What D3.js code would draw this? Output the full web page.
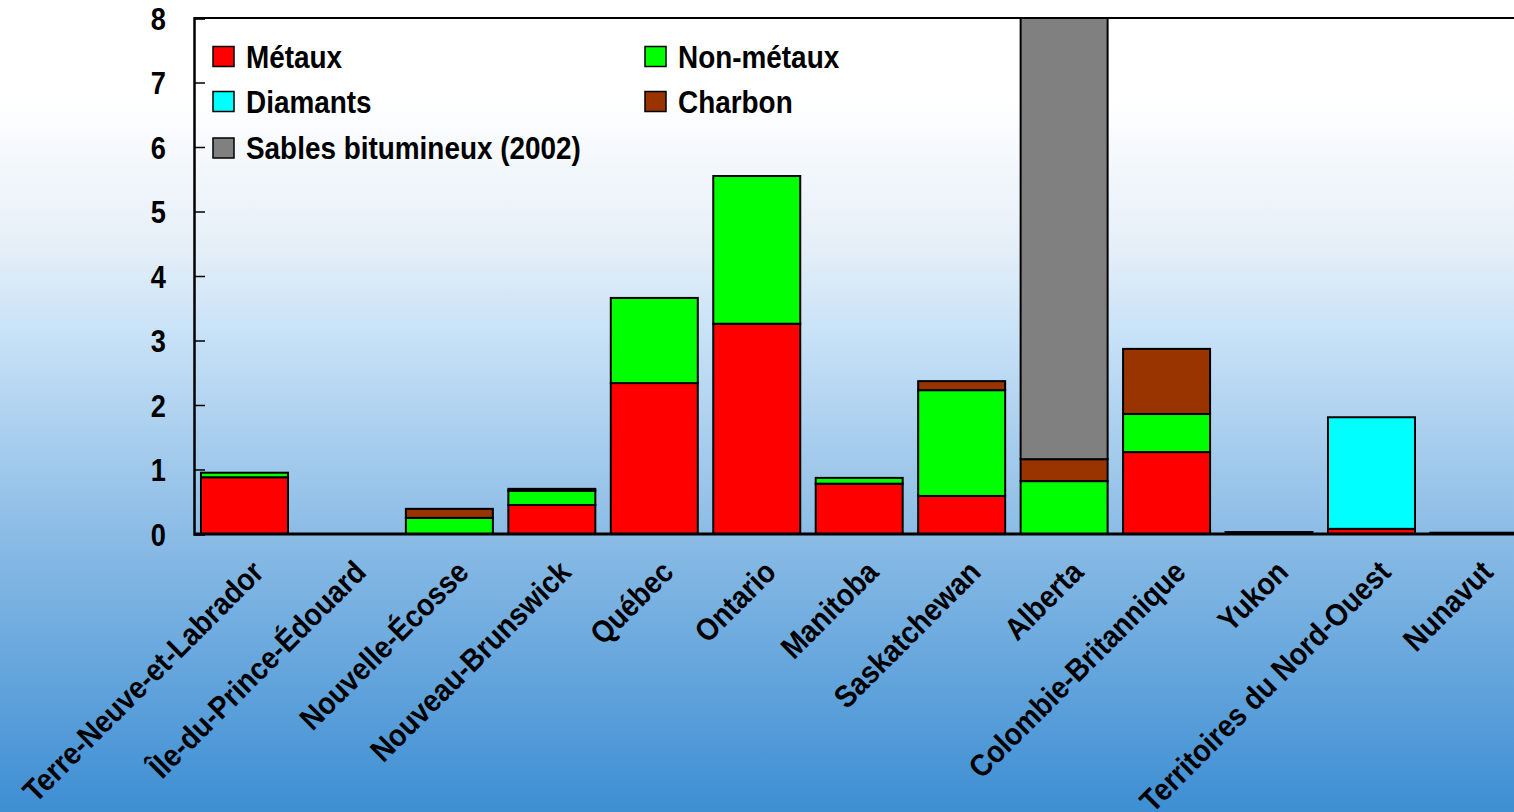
<!DOCTYPE html>
<html>
<head>
<meta charset="utf-8">
<title>Production minérale par province</title>
<script src="https://cdnjs.cloudflare.com/ajax/libs/d3/7.8.5/d3.min.js"></script>
<style>
  html, body { margin: 0; padding: 0; }
  svg { display: block; font-family: "Liberation Sans", Arial, sans-serif; font-weight: bold; }
</style>
</head>
<body>
<svg id="chart" width="1514" height="812"></svg>
<script>
  const provinces = ['Terre-Neuve-et-Labrador', 'Île-du-Prince-Édouard', 'Nouvelle-Écosse', 'Nouveau-Brunswick',
    'Québec', 'Ontario', 'Manitoba', 'Saskatchewan', 'Alberta', 'Colombie-Britannique', 'Yukon',
    'Territoires du Nord-Ouest', 'Nunavut'];

  const metaux    = [0.88, 0, 0,    0.45, 2.34, 3.26, 0.78, 0.59, 0,    1.27, 0.03, 0.08, 0.02];
  const nonMetaux = [0.07, 0, 0.25, 0.22, 1.32, 2.29, 0.09, 1.64, 0.82, 0.59, 0,    0,    0];
  const diamants  = [0,    0, 0,    0,    0,    0,    0,    0,    0,    0,    0,    1.73, 0];
  const charbon   = [0,    0, 0.14, 0.03, 0,    0,    0,    0.14, 0.34, 1.01, 0,    0,    0];
  const sables    = [0,    0, 0,    0,    0,    0,    0,    0,    7.2,  0,    0,    0,    0];

  const yTicks = [0, 1, 2, 3, 4, 5, 6, 7, 8];

  const series = [
    { key: 'metaux', label: 'Métaux', color: '#ff0000', values: metaux },
    { key: 'nonMetaux', label: 'Non-métaux', color: '#00ff00', values: nonMetaux },
    { key: 'diamants', label: 'Diamants', color: '#00ffff', values: diamants },
    { key: 'charbon', label: 'Charbon', color: '#993300', values: charbon },
    { key: 'sables', label: 'Sables bitumineux (2002)', color: '#808080', values: sables }
  ];

  const rows = provinces.map((p, i) => {
    const r = { province: p };
    series.forEach(s => { r[s.key] = s.values[i]; });
    return r;
  });

  const svg = d3.select('#chart');
  const W = 1514, H = 812;
  const m = { top: 18, bottom: 278, left: 194 };

  // fond dégradé
  const defs = svg.append('defs');
  const grad = defs.append('linearGradient')
    .attr('id', 'bg').attr('x1', 0).attr('y1', 0).attr('x2', 0).attr('y2', 1);
  [[0, '#ffffff'], [0.12, '#ffffff'], [0.3, '#e6eff8'], [0.41, '#c8e2f7'], [0.65, '#8dbde6'], [1, '#3d8ed3']]
    .forEach(d => grad.append('stop').attr('offset', d[0]).attr('stop-color', d[1]));
  svg.append('rect').attr('width', W).attr('height', H).attr('fill', 'url(#bg)');

  defs.append('clipPath').attr('id', 'plotClip')
    .append('rect').attr('x', m.left).attr('y', m.top)
    .attr('width', W - m.left).attr('height', H - m.top - m.bottom);

  // the last band runs a little past the right edge, like the original
  const x = d3.scaleBand().domain(provinces).range([m.left, 1524.4]).paddingInner(0.151).paddingOuter(0.068);
  const y = d3.scaleLinear().domain([0, 8]).range([H - m.bottom, m.top]);

  const stacked = d3.stack().keys(series.map(s => s.key))(rows);

  svg.append('g').attr('clip-path', 'url(#plotClip)')
    .selectAll('g').data(stacked).join('g')
    .attr('fill', (d, i) => series[i].color)
    .selectAll('rect').data(d => d).join('rect')
    .attr('x', d => x(d.data.province))
    .attr('width', x.bandwidth())
    .attr('y', d => y(d[1]))
    .attr('height', d => y(d[0]) - y(d[1]))
    .attr('stroke', d => (d[1] - d[0]) > 0 ? '#000' : 'none')
    .attr('stroke-width', 2);

  // cadre haut
  svg.append('line').attr('x1', m.left).attr('x2', W).attr('y1', m.top).attr('y2', m.top)
    .attr('stroke', '#000').attr('stroke-width', 2);

  // axe y
  const yAxis = svg.append('g').attr('transform', `translate(${m.left},0)`)
    .call(d3.axisRight(y).tickValues(yTicks).tickSize(11).tickFormat(''));
  yAxis.select('.domain').attr('stroke-width', 2.5);
  yAxis.selectAll('.tick line').attr('stroke-width', 1.5);
  svg.append('g').selectAll('text').data(yTicks).join('text')
    .attr('transform', d => `translate(166,${y(d)}) scale(0.85,1)`)
    .attr('dy', '0.36em')
    .attr('text-anchor', 'end').attr('font-size', 32).text(d => d);

  // axe x
  svg.append('line').attr('x1', m.left).attr('x2', W).attr('y1', y(0)).attr('y2', y(0))
    .attr('stroke', '#000').attr('stroke-width', 3);
  svg.append('g').selectAll('text').data(provinces).join('text')
    .attr('transform', d => `translate(${x(d) + x.bandwidth() / 2 + 21},${y(0) + 40}) rotate(-45) scale(0.9,1)`)
    .attr('text-anchor', 'end').attr('font-size', 31).text(d => d);

  // légende
  const legendPos = [
    { key: 'metaux', x: 213, y: 56.5 },
    { key: 'nonMetaux', x: 645, y: 56.5 },
    { key: 'diamants', x: 213, y: 101.5 },
    { key: 'charbon', x: 645, y: 101.5 },
    { key: 'sables', x: 213, y: 148 }
  ];
  const lg = svg.append('g').selectAll('g').data(legendPos).join('g')
    .attr('transform', d => `translate(${d.x},${d.y})`);
  lg.append('rect').attr('x', 0).attr('y', -10).attr('width', 21).attr('height', 20)
    .attr('fill', d => series.find(s => s.key === d.key).color).attr('stroke', '#000').attr('stroke-width', 1.5);
  lg.append('text').attr('transform', 'translate(33,0) scale(0.9,1)').attr('dy', '0.36em').attr('font-size', 31)
    .text(d => series.find(s => s.key === d.key).label);
</script>
</body>
</html>
